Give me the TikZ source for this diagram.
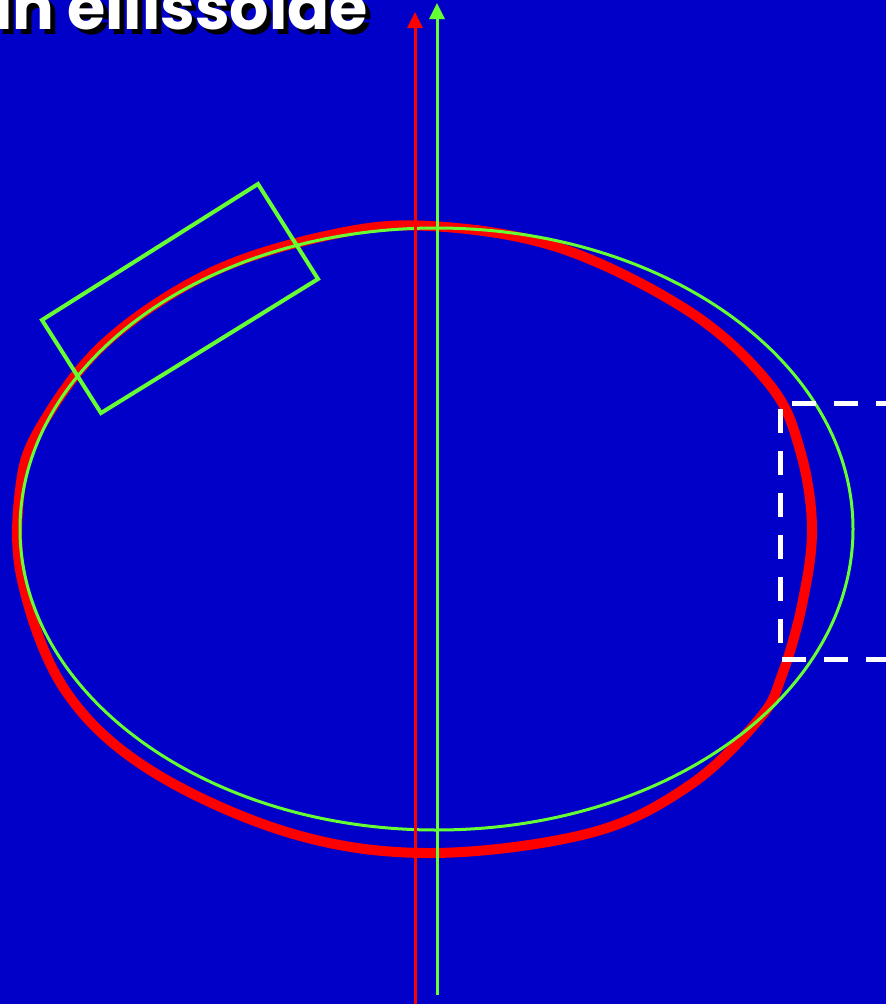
\documentclass[tikz,border=0pt]{standalone}
\usepackage{fontspec}
\setmainfont{Poppins}
\usetikzlibrary{shapes.geometric,arrows.meta}
\begin{document}
\begin{tikzpicture}[x=1pt,y=-1pt,
  greenline/.style={draw=lgreen,line width=3pt},
  arrowline/.style={line width=3pt,-{Triangle[length=16pt,width=15pt]}},
  titletext/.style={font=\fontsize{62}{62}\selectfont\bfseries,inner sep=0pt,anchor=base east}]
\definecolor{bgblue}{RGB}{0,0,200}
\definecolor{lgreen}{RGB}{102,255,51}
\definecolor{lred}{RGB}{255,0,0}
\useasboundingbox (0,0) rectangle (886,1004);
\fill[bgblue] (0,0) rectangle (886,1004);
% red irregular contour
\draw[lred,line width=10pt] plot[smooth cycle,tension=0.6] coordinates {
 (430,226) (560,248) (690,312) (770,385) (800,450) (812,528) (802,605) (782,675)
 (760,718) (690,785) (590,833) (430,853) (290,833) (150,770) (65,690) (22,580)
 (20,490) (40,428) (105,343) (210,273) (330,235)};
% green ellipse
\node[draw=lgreen,line width=3pt,ellipse,minimum width=833pt,minimum height=602pt,inner sep=0pt] (ell) at (436.5,529) {};
% green rotated rectangle
\draw[greenline,line width=4pt,line join=miter] (42,320) -- (258,184) -- (318,279) -- (101,413) -- cycle;
% white dashed rectangle
\draw[white,line width=5pt,dash pattern=on 24pt off 18pt] (900,403) -- (780,403) -- (780,659) -- (900,659);
% arrows
\coordinate (rb) at (415,1004);
\coordinate (rt) at (415,12);
\coordinate (gb) at (437,995);
\coordinate (gt) at (437,3);
\draw[arrowline,lred] (rb) -- (rt);
\draw[arrowline,lgreen] (gb) -- (gt);
% title
\node[titletext,text=black] (tshadow) at (373,34) {in ellissoide};
\node[titletext,text=white] (title) at (368,29) {in ellissoide};
\end{tikzpicture}
\end{document}
